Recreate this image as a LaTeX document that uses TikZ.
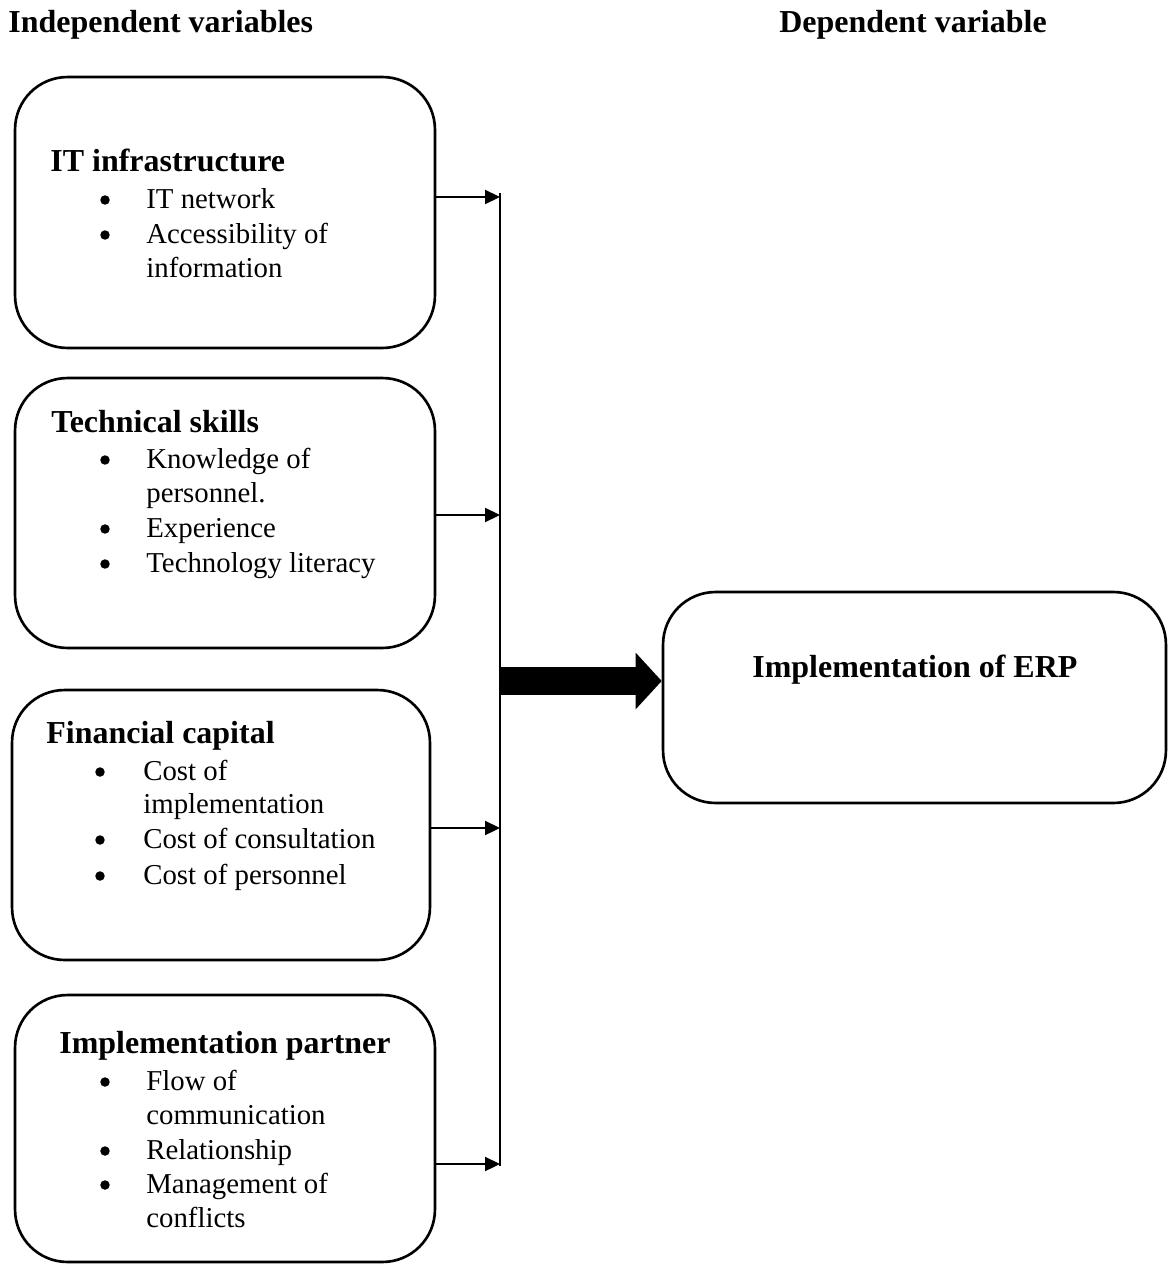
\documentclass[tikz,border=0pt]{standalone}
\usepackage{fontspec}
\setmainfont{Liberation Serif}
\usetikzlibrary{arrows.meta}
\newcommand\myBody{\fontsize{16.4pt}{18.8pt}\selectfont}
\newcommand\myHead{\bfseries\fontsize{18.2pt}{21pt}\selectfont}
\begin{document}
\begin{tikzpicture}[x=0.02cm,y=-0.02cm,
  box/.style={draw, line width=1.5pt, rounded corners=1.05cm, inner sep=0pt, rectangle},
  txt/.style={anchor=base west, inner sep=0pt, font=\myBody},
  hd/.style={anchor=base west, inner sep=0pt, font=\myHead},
  conn/.style={line width=1pt, -{Triangle[length=8.5pt,width=8pt]}},
  bus/.style={line width=1.1pt},
  bigarrow/.style={line width=15.9pt, -{Triangle[length=14.8pt,width=31.3pt]}},
  bul/.style={fill=black}
]
\useasboundingbox (0,0) rectangle (1168,1264);

% headers
\node[hd] (hind) at (8,33) {Independent variables};
\node[hd] (hdep) at (779,33) {Dependent variable};

% boxes
\node[box, minimum width=8.4cm, minimum height=5.42cm] (b1) at (225,212.5) {};
\node[box, minimum width=8.4cm, minimum height=5.4cm] (b2) at (225,513) {};
\node[box, minimum width=8.36cm, minimum height=5.4cm] (b3) at (221,825) {};
\node[box, minimum width=8.4cm, minimum height=5.34cm] (b4) at (225,1128.5) {};
\node[box, minimum width=10.06cm, minimum height=4.22cm] (erp) at (914.5,697.5) {};

% box 1 text
\node[hd] (b1h) at (50,172) {IT infrastructure};
\fill[bul] (105,200) circle[radius=2.7pt];
\node[txt] (b1a) at (146,208) {IT network};
\fill[bul] (105,235) circle[radius=2.7pt];
\node[txt] (b1b) at (146,243) {Accessibility of};
\node[txt] (b1c) at (146,277) {information};

% box 2 text
\node[hd] (b2h) at (51,432) {Technical skills};
\fill[bul] (105,460) circle[radius=2.7pt];
\node[txt] (b2a) at (146,468) {Knowledge of};
\node[txt] (b2b) at (146,502) {personnel.};
\fill[bul] (105,529) circle[radius=2.7pt];
\node[txt] (b2c) at (146,537) {Experience};
\fill[bul] (105,564) circle[radius=2.7pt];
\node[txt] (b2d) at (146,572) {Technology literacy};

% box 3 text
\node[hd] (b3h) at (46,743) {Financial capital};
\fill[bul] (100,772) circle[radius=2.7pt];
\node[txt] (b3a) at (143,780) {Cost of};
\node[txt] (b3b) at (143,813) {implementation};
\fill[bul] (100,840) circle[radius=2.7pt];
\node[txt] (b3c) at (143,848) {Cost of consultation};
\fill[bul] (100,876) circle[radius=2.7pt];
\node[txt] (b3d) at (143,884) {Cost of personnel};

% box 4 text
\node[hd] (b4h) at (59,1053) {Implementation partner};
\fill[bul] (105,1082) circle[radius=2.7pt];
\node[txt] (b4a) at (146,1090) {Flow of};
\node[txt] (b4b) at (146,1124) {communication};
\fill[bul] (105,1151) circle[radius=2.7pt];
\node[txt] (b4c) at (146,1159) {Relationship};
\fill[bul] (105,1185) circle[radius=2.7pt];
\node[txt] (b4d) at (146,1193) {Management of};
\node[txt] (b4e) at (146,1227) {conflicts};

% ERP text
\node[hd] (erpt) at (752,677) {Implementation of ERP};

% bus
\coordinate (vtop) at (500,193);
\coordinate (vbot) at (500,1166);
\coordinate (j1) at (500,197);
\coordinate (j2) at (500,515);
\coordinate (j3) at (500,828);
\coordinate (j4) at (500,1164);
\coordinate (jm) at (500,681);
\draw[bus] (vtop) -- (vbot);
\draw[conn] (b1.east |- j1) -- (j1);
\draw[conn] (b2.east |- j2) -- (j2);
\draw[conn] (b3.east |- j3) -- (j3);
\draw[conn] (b4.east |- j4) -- (j4);
\draw[bigarrow] (jm) -- (erp.west |- jm);
\end{tikzpicture}
\end{document}
